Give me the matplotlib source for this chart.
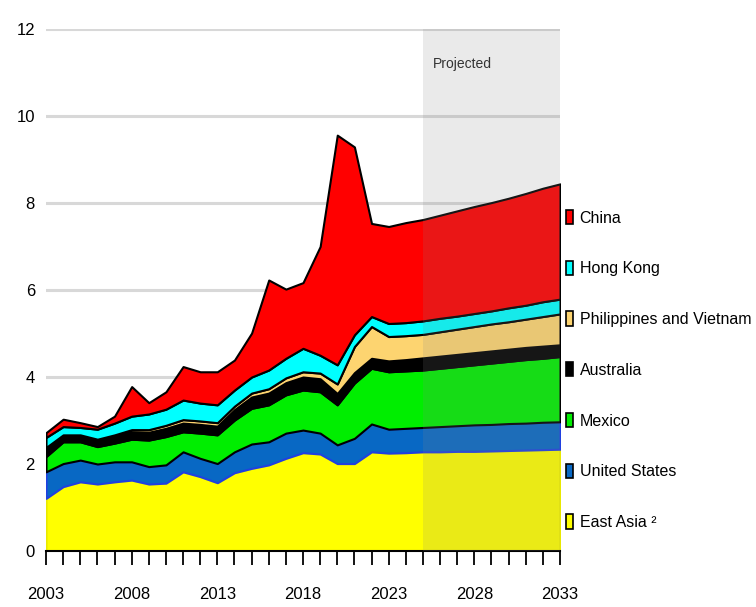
import numpy as np
import matplotlib
matplotlib.use("Agg")
import matplotlib.pyplot as plt
from matplotlib import font_manager
from matplotlib.patches import Patch
from matplotlib.ticker import MultipleLocator, FixedLocator

# ---------------------------------------------------------------------------
# Data (stacked, bottom to top)
# ---------------------------------------------------------------------------
years = list(range(2003, 2034))

east_asia = [1.21, 1.48, 1.59, 1.54, 1.59, 1.63, 1.54, 1.56, 1.82, 1.71, 1.57,
             1.80, 1.90, 1.98, 2.13, 2.26, 2.23, 2.01, 2.01, 2.28, 2.25, 2.26,
             2.28, 2.28, 2.29, 2.29, 2.30, 2.31, 2.32, 2.33, 2.34]
united_states = [0.61, 0.53, 0.50, 0.46, 0.46, 0.42, 0.40, 0.42, 0.46, 0.42, 0.44,
                 0.48, 0.56, 0.53, 0.58, 0.52, 0.48, 0.43, 0.58, 0.64, 0.55, 0.56,
                 0.56, 0.58, 0.59, 0.61, 0.61, 0.62, 0.62, 0.63, 0.63]
mexico = [0.35, 0.50, 0.42, 0.40, 0.43, 0.52, 0.61, 0.65, 0.46, 0.58, 0.66,
          0.73, 0.82, 0.85, 0.88, 0.92, 0.95, 0.92, 1.27, 1.28, 1.32, 1.32,
          1.32, 1.34, 1.36, 1.38, 1.41, 1.43, 1.46, 1.47, 1.50]
australia = [0.20, 0.15, 0.15, 0.15, 0.16, 0.17, 0.18, 0.19, 0.20, 0.20, 0.20,
             0.24, 0.26, 0.27, 0.28, 0.30, 0.30, 0.26, 0.24, 0.23, 0.25, 0.26,
             0.28, 0.28, 0.28, 0.28, 0.28, 0.28, 0.28, 0.28, 0.27]
phil_vietnam = [0.01, 0.01, 0.01, 0.02, 0.03, 0.05, 0.06, 0.07, 0.08, 0.08, 0.08,
                0.08, 0.09, 0.10, 0.11, 0.12, 0.13, 0.22, 0.60, 0.73, 0.56, 0.55,
                0.54, 0.56, 0.58, 0.60, 0.62, 0.63, 0.65, 0.68, 0.71]
hong_kong = [0.23, 0.19, 0.17, 0.23, 0.27, 0.31, 0.36, 0.37, 0.45, 0.41, 0.41,
             0.37, 0.37, 0.43, 0.45, 0.54, 0.41, 0.44, 0.27, 0.23, 0.30, 0.30,
             0.31, 0.31, 0.30, 0.30, 0.30, 0.32, 0.32, 0.34, 0.34]
china = [0.11, 0.17, 0.11, 0.06, 0.16, 0.68, 0.26, 0.40, 0.77, 0.72, 0.76,
         0.69, 1.01, 2.07, 1.59, 1.51, 2.50, 5.28, 4.32, 2.14, 2.23, 2.30,
         2.33, 2.37, 2.42, 2.46, 2.49, 2.52, 2.57, 2.61, 2.65]

labels = ["East Asia \u00b2", "United States", "Mexico", "Australia",
          "Philippines and Vietnam", "Hong Kong", "China"]
projection_start = 2025

# fill colour, outline colour
styles = [
    ("#ffff00", "#e8e800"),
    ("#0868c4", "#2040e0"),
    ("#00ee00", "#000000"),
    ("#000000", "#000000"),
    ("#fdd470", "#000000"),
    ("#00ffff", "#000000"),
    ("#ff0000", "#000000"),
]

# narrow sans if available, otherwise plain Liberation Sans a bit smaller
installed = {f.name for f in font_manager.fontManager.ttflist}
if "Liberation Sans Narrow" in installed:
    family, fsize = "Liberation Sans Narrow", 14
else:
    family, fsize = "Liberation Sans", 11.5
plt.rcParams["font.family"] = [family, "DejaVu Sans"]

# ---------------------------------------------------------------------------
# Plot
# ---------------------------------------------------------------------------
fig = plt.figure(figsize=(7.56, 6.07), dpi=100)
ax = fig.add_axes([46 / 756, 1 - 551 / 607, (560 - 46) / 756, (551 - 29) / 607])

series = [east_asia, united_states, mexico, australia, phil_vietnam, hong_kong, china]
x = np.array(years)
base = np.zeros(len(years))
for vals, (fc, ec) in zip(series, styles):
    top = base + np.array(vals)
    ax.fill_between(x, base, top, facecolor=fc, edgecolor=ec,
                    linewidth=1.5, joinstyle="round")
    base = top

# projected period shading, laid over the areas
ax.axvspan(projection_start, years[-1], color="#888888", alpha=0.17, lw=0, zorder=5)
ax.text(2025.6, 11.2, "Projected", fontsize=fsize - 1.5, color="#333333",
        va="center", ha="left", zorder=6)

ax.set_xlim(years[0], years[-1])
ax.set_ylim(0, 12)

ax.xaxis.set_major_locator(FixedLocator(years[::5]))
ax.xaxis.set_minor_locator(MultipleLocator(1))
ax.yaxis.set_major_locator(MultipleLocator(2))
ax.tick_params(axis="x", which="both", direction="out", length=10, width=1.3,
               color="black", labelsize=fsize + 0.5, pad=16)
ax.tick_params(axis="y", length=0, labelsize=fsize + 0.5, pad=8)

ax.yaxis.grid(True, color="#d8d8d8", linewidth=2.2)
ax.set_axisbelow(True)

for side in ("left", "right", "top"):
    ax.spines[side].set_visible(False)
ax.spines["bottom"].set_linewidth(1.5)
ax.spines["bottom"].set_color("black")

handles = [Patch(facecolor=fc, edgecolor="black", linewidth=1.2)
           for fc, _ in styles][::-1]
fig.legend(handles, labels[::-1], loc="center left",
           bbox_to_anchor=(566 / 756, 1 - 370 / 607),
           frameon=False, fontsize=fsize, borderpad=0, borderaxespad=0,
           handlelength=0.45, handleheight=1.0, handletextpad=0.4,
           labelspacing=2.2)

fig.savefig("out.png", dpi=100)
